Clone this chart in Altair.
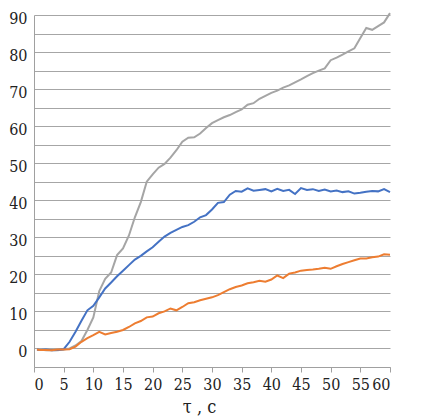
import altair as alt
import pandas as pd

t = [0.5, 1, 2, 3, 4, 5, 6, 7, 8, 9, 10, 11, 12, 13, 14, 15, 16, 17, 18, 19, 20,
     21, 22, 23, 24, 25, 26, 27, 28, 29, 30, 31, 32, 33, 34, 35, 36, 37, 38, 39, 40,
     41, 42, 43, 44, 45, 46, 47, 48, 49, 50, 51, 52, 53, 54, 55, 56, 57, 58, 59, 60]

grey = [-0.4, -0.3, -0.5, -0.4, -0.5, -0.3, 0, 0.8, 2.0, 5.0, 8.4, 15.5, 18.8, 20.5, 25.2, 27, 30.5,
        35.4, 39.5, 45, 47, 48.8, 49.8, 51.5, 53.5, 55.8, 56.9, 57, 58, 59.5, 60.8, 61.6, 62.4,
        63, 63.8, 64.5, 65.8, 66.2, 67.4, 68.2, 69, 69.6, 70.4, 71, 71.8, 72.6, 73.5, 74.3, 75,
        75.6, 77.8, 78.5, 79.3, 80.2, 81, 83.8, 86.5, 86, 87, 88, 90.5]

blue = [-0.3, -0.4, -0.3, -0.5, -0.4, -0.2, 1.8, 4.5, 7.5, 10.3, 11.5, 13.8, 16.2, 17.8, 19.5, 21,
        22.5, 24, 25, 26.2, 27.3, 28.8, 30.2, 31.2, 32, 32.8, 33.3, 34.2, 35.4, 36, 37.5, 39.3,
        39.5, 41.5, 42.5, 42.3, 43.2, 42.6, 42.8, 43, 42.4, 43.1, 42.5, 42.8, 41.7, 43.3, 42.8,
        43, 42.5, 42.9, 42.4, 42.6, 42.2, 42.4, 41.8, 42, 42.3, 42.5, 42.4, 43, 42.2]

orange = [-0.3, -0.4, -0.4, -0.5, -0.3, -0.3, -0.2, 0.5, 1.8, 2.8, 3.6, 4.5, 3.8, 4.2, 4.5, 5, 5.8,
          6.8, 7.4, 8.4, 8.6, 9.5, 10, 10.8, 10.3, 11.2, 12.2, 12.5, 13, 13.4, 13.8, 14.4, 15.2,
          16, 16.6, 17, 17.6, 17.9, 18.3, 18, 18.6, 19.7, 19, 20.2, 20.5, 21, 21.2, 21.3, 21.5,
          21.8, 21.5, 22.2, 22.8, 23.3, 23.8, 24.3, 24.3, 24.6, 24.8, 25.4, 25.3]

series_names = ["grey", "blue", "orange"]
series_colors = ["#a5a5a5", "#4472c4", "#ed7d31"]

rows = []
for name, vals in zip(series_names, [grey, blue, orange]):
    for tt, v in zip(t, vals):
        rows.append({"t": tt, "v": v, "s": name})
df = pd.DataFrame(rows)

x_ticks = [0, 5, 10, 15, 20, 25, 30, 35, 40, 45, 50, 55, 60]
y_ticks = [-5, 0, 5, 10, 15, 20, 25, 30, 35, 40, 45, 50, 55, 60, 65, 70, 75, 80, 85, 90]

FONT = "DejaVu Serif Condensed"

chart = alt.Chart(df).mark_line(strokeWidth=2).encode(
    x=alt.X("t:Q", scale=alt.Scale(domain=[0, 60], nice=False),
            axis=alt.Axis(values=x_ticks, title="τ , с", grid=False, tickSize=5,
                          tickColor="#a0a0a0", domainColor="#a0a0a0",
                          labelFont=FONT, titleFont=FONT,
                          labelFontSize=16, labelColor="#222222",
                          labelPadding=4, labelOverlap=False,
                          titleFontSize=18,
                          titleFontWeight="normal", titleColor="#222222",
                          titleX=165, titleY=45, titleBaseline="alphabetic", titleAlign="center")),
    y=alt.Y("v:Q", scale=alt.Scale(domain=[-5, 90], nice=False),
            axis=alt.Axis(values=y_ticks, title=None, grid=True, gridColor="#a6a6a6",
                          gridWidth=1, ticks=False, domainColor="#a0a0a0",
                          labelFont=FONT,
                          labelExpr="datum.value % 10 == 0 ? datum.label : ''",
                          labelFontSize=16, labelColor="#222222",
                          labelPadding=7, labelOffset=3, labelOverlap=False)),
    color=alt.Color("s:N", scale=alt.Scale(domain=series_names, range=series_colors), legend=None),
    detail="s:N",
).properties(
    width=356, height=352,
    autosize=alt.AutoSizeParams(type="none"),
    padding={"left": 26, "top": 7, "right": 31, "bottom": 50},
).configure_view(stroke=None).configure_axis(gridOpacity=1)

chart.save("out.html", embed_options={"renderer": "svg", "actions": False})
